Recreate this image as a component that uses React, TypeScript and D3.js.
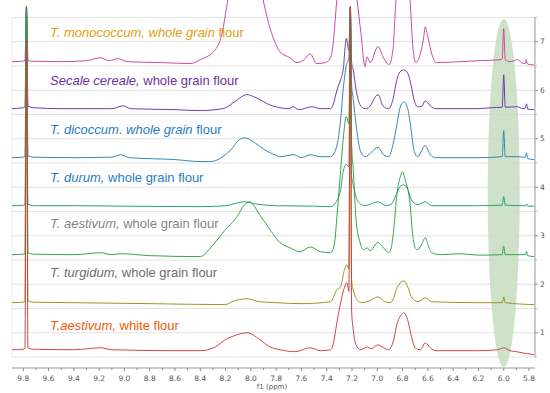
import React from "react";
import * as d3 from "d3";

const W = 550;
const H = 393;

const ppmTicks = [9.8, 9.6, 9.4, 9.2, 9.0, 8.8, 8.6, 8.4, 8.2, 8.0, 7.8, 7.6, 7.4, 7.2, 7.0, 6.8, 6.6, 6.4, 6.2, 6.0, 5.8];
const yTicks = [1, 2, 3, 4, 5, 6, 7];
const gridValues = [0.5, 1, 1.5, 2, 2.5, 3, 3.5, 4, 4.5, 5, 5.5, 6, 6.5, 7, 7.5];

// Vertical offsets of the stacked spectra (axis units)
const offsets = [6.59, 5.62, 4.61, 3.62, 2.61, 1.62, 0.65];

// [ppm, intensity above own baseline]
const monococcum: [number, number][] = [[9.89,0],[9.80,0.01],[9.787,0.02],[9.775,1.13],[9.763,0.03],[9.74,0.01],[9.5,0],[9.3,0.02],[9.19,0.08],[9.12,0.02],[9.05,0.06],[8.98,0],[8.7,-0.02],[8.48,-0.04],[8.40,0.04],[8.28,0.25],[8.23,0.56],[8.18,1.3],[8.05,2.4],[7.95,1.8],[7.904,1.28],[7.85,0.7],[7.80,0.35],[7.77,0.2],[7.69,0.08],[7.635,-0.02],[7.58,0.04],[7.53,0.16],[7.48,-0.04],[7.41,-0.02],[7.37,0.08],[7.35,0.35],[7.32,1.28],[7.28,2.2],[7.225,2.0],[7.19,2.0],[7.16,1.28],[7.13,0.6],[7.097,-0.1],[7.081,0.1],[7.057,-0.02],[6.994,0.31],[6.955,0.1],[6.907,-0.06],[6.876,0.25],[6.852,1.28],[6.80,2.4],[6.741,1.28],[6.717,0.25],[6.694,-0.02],[6.662,0.14],[6.63,0.56],[6.622,0.72],[6.598,0.49],[6.567,0.14],[6.535,-0.02],[6.345,0],[6.187,0.02],[6.03,0.04],[6.012,0.06],[6.0,0.68],[5.988,0.04],[5.95,0],[5.89,0.04],[5.86,-0.02],[5.83,-0.04],[5.822,0.04],[5.812,-0.05],[5.76,-0.07]];

const secale: [number, number][] = [[9.89,0],[9.80,0.02],[9.787,0.04],[9.775,2.10],[9.763,0.05],[9.72,0.02],[9.5,0],[9.1,0],[9.01,0.06],[8.95,0],[8.6,-0.02],[8.4,-0.04],[8.28,-0.02],[8.20,0.02],[8.13,0.14],[8.03,0.29],[7.98,0.25],[7.93,0.19],[7.87,0.10],[7.77,0.02],[7.70,0],[7.666,0.04],[7.62,-0.02],[7.516,0.04],[7.45,0],[7.37,0],[7.35,0.08],[7.318,0.39],[7.29,0.60],[7.27,0.80],[7.245,1.45],[7.225,1.2],[7.213,2.10],[7.203,0.95],[7.19,0.80],[7.168,0.39],[7.136,0.08],[7.097,0],[7.07,0.02],[6.994,0.29],[6.955,0.06],[6.91,0],[6.876,0.19],[6.845,0.60],[6.82,0.76],[6.79,0.80],[6.765,0.76],[6.733,0.49],[6.71,0.19],[6.68,0.04],[6.65,0.04],[6.622,0.16],[6.58,0.06],[6.54,0],[6.2,0],[6.1,0.02],[6.012,0.03],[6.0,0.70],[5.988,0.03],[5.89,0.04],[5.85,0],[5.828,0.02],[5.82,0.10],[5.81,-0.01],[5.76,-0.02]];

const dicoccum: [number, number][] = [[9.89,0],[9.80,0.01],[9.787,0.03],[9.775,3.11],[9.763,0.04],[9.72,0.01],[9.4,0],[9.1,0.01],[9.03,0.06],[8.96,0],[8.6,-0.04],[8.40,-0.08],[8.32,-0.08],[8.16,0.16],[8.09,0.37],[8.05,0.41],[7.97,0.31],[7.89,0.16],[7.81,0.06],[7.77,0.02],[7.66,0.06],[7.60,0],[7.53,0.06],[7.45,0.02],[7.37,0.02],[7.33,0.16],[7.29,0.78],[7.27,1.40],[7.245,1.90],[7.225,2.06],[7.213,3.11],[7.203,1.5],[7.19,1.20],[7.168,0.68],[7.136,0.16],[7.097,0.02],[6.994,0.21],[6.95,0.06],[6.91,0.02],[6.876,0.27],[6.845,0.68],[6.82,1.03],[6.79,1.15],[6.757,0.99],[6.733,0.58],[6.71,0.16],[6.68,0.02],[6.622,0.25],[6.58,0.06],[6.54,0],[6.2,0],[6.012,0.02],[6.0,0.56],[5.988,0.02],[5.89,0.02],[5.828,0.01],[5.82,0.10],[5.81,-0.02],[5.76,-0.04]];

const durum: [number, number][] = [[9.89,0],[9.80,0.01],[9.787,0.02],[9.775,4.10],[9.763,0.03],[9.72,0],[9.4,0],[9.0,-0.01],[8.4,-0.02],[8.2,0],[8.05,0.08],[7.95,0.03],[7.8,0],[7.5,-0.01],[7.37,-0.02],[7.33,0.06],[7.29,0.33],[7.27,0.70],[7.245,0.85],[7.225,0.8],[7.213,4.10],[7.203,0.6],[7.19,0.43],[7.168,0.18],[7.136,0.04],[7.097,0],[6.994,0.08],[6.93,0],[6.89,0.03],[6.85,0.23],[6.82,0.39],[6.79,0.43],[6.757,0.33],[6.73,0.12],[6.68,0.02],[6.622,0.08],[6.57,0],[6.2,0],[6.012,0.01],[6.0,0.19],[5.988,0.01],[5.828,0],[5.82,0.04],[5.81,-0.01],[5.76,-0.01]];

const aestivumWhole: [number, number][] = [[9.89,0],[9.80,0.01],[9.787,0.02],[9.775,5.11],[9.763,0.04],[9.72,0.01],[9.4,0],[9.19,0.04],[9.1,0],[9.03,0.02],[8.8,-0.02],[8.40,-0.04],[8.32,0.14],[8.20,0.52],[8.11,0.78],[8.05,1.03],[8.01,1.09],[7.93,0.82],[7.86,0.56],[7.77,0.25],[7.69,0.14],[7.61,0.06],[7.53,0.16],[7.45,0.06],[7.37,0.04],[7.34,0.21],[7.318,0.82],[7.29,1.75],[7.27,2.37],[7.245,2.85],[7.225,2.7],[7.213,5.11],[7.203,2.3],[7.19,1.75],[7.168,0.72],[7.136,0.25],[7.11,0.10],[7.08,0.14],[7.057,0.08],[6.994,0.25],[6.95,0.14],[6.91,0.04],[6.89,0.14],[6.87,0.52],[6.845,1.24],[6.82,1.59],[6.80,1.71],[6.78,1.55],[6.74,1.03],[6.72,0.41],[6.70,0.14],[6.68,0.10],[6.65,0.21],[6.62,0.35],[6.60,0.21],[6.57,0.04],[6.5,0],[6.345,0.02],[6.2,-0.01],[6.012,0],[6.0,0.18],[5.988,0],[5.828,0],[5.82,0.07],[5.81,-0.02],[5.76,-0.04]];

const turgidum: [number, number][] = [[9.89,0],[9.80,0.01],[9.787,0.04],[9.775,6.10],[9.763,0.04],[9.72,0.01],[9.4,0],[8.8,-0.02],[8.2,-0.04],[8.15,0.02],[8.03,0.08],[7.93,0.02],[7.8,0],[7.6,-0.02],[7.37,0.02],[7.318,0.27],[7.29,0.33],[7.26,0.68],[7.24,0.78],[7.225,0.7],[7.213,6.10],[7.203,0.45],[7.19,0.27],[7.16,0.06],[7.12,0],[7.08,0.02],[6.994,0.12],[6.94,0.02],[6.9,0],[6.87,0.10],[6.85,0.27],[6.79,0.45],[6.76,0.33],[6.73,0.12],[6.68,0.02],[6.62,0.10],[6.57,0.02],[6.2,0],[6.012,0],[6.0,0.12],[5.988,0],[5.76,-0.04]];

const aestivumWhite: [number, number][] = [[9.89,0],[9.80,0.01],[9.787,0.03],[9.775,6.39],[9.763,0.04],[9.72,0.01],[9.4,0],[9.19,0.04],[9.1,0],[8.6,-0.02],[8.4,-0.02],[8.28,0.06],[8.20,0.21],[8.13,0.29],[8.03,0.35],[7.93,0.21],[7.85,0.06],[7.77,0],[7.65,-0.04],[7.53,0.04],[7.45,-0.02],[7.37,0],[7.35,0.10],[7.32,0.55],[7.29,0.97],[7.265,1.24],[7.24,1.38],[7.225,1.2],[7.213,7.07],[7.203,0.8],[7.19,0.41],[7.168,0.10],[7.13,0],[7.08,0.06],[7.05,0.02],[6.994,0.10],[6.95,0.04],[6.91,0],[6.87,0.21],[6.845,0.52],[6.81,0.72],[6.79,0.76],[6.76,0.62],[6.733,0.31],[6.70,0.04],[6.66,0],[6.62,0.14],[6.58,0.04],[6.54,-0.02],[6.2,-0.02],[6.05,0],[6.0,0.04],[5.95,-0.02],[5.90,-0.04],[5.82,-0.08],[5.76,-0.1]];

const spectra = [monococcum, secale, dicoccum, durum, aestivumWhole, turgidum, aestivumWhite];
const lineColors = ["#c8409c", "#6a32a8", "#2f7fb2", "#1e9c78", "#2e9e42", "#9a8c14", "#d23a3a"];
const drawOrder = [0, 1, 2, 3, 5, 4, 6];

// Labels: [italic part, regular part]
const labelItalic = ["T. monococcum, whole grain", "Secale cereale,", "T. dicoccum. whole grain", "T. durum,", "T. aestivum,", "T. turgidum,", "T.aestivum,"];
const labelRegular = [" flour", " whole grain flour", " flour", " whole grain flour", " whole grain flour", " whole grain flour", " white flour"];
const labelColors = ["#e3a008", "#7030a0", "#1f7cc4", "#1f7cc4", "#858585", "#6e6e6e", "#f25a05"];
const labelValues = [7.1, 6.1, 5.1, 4.1, 3.15, 2.15, 1.05];

export default function App() {
  const x = d3.scaleLinear().domain([9.8, 5.8]).range([23.3, 529]);
  const y = d3.scaleLinear().domain([0.5, 7.5]).range([357, 17.5]);
  const left = 12;
  const right = 535;
  const axisY = 368;

  const minorTicks = d3.range(0, 41).map((i) => 9.8 - i * 0.1);

  return (
    <svg width={W} height={H} style={{ position: "absolute", left: 0, top: 0, background: "#fff" }} fontFamily="'DejaVu Sans', Verdana, sans-serif">
      {/* frame + gridlines */}
      {gridValues.map((g) => (
        <line key={g} x1={left} x2={right} y1={y(g)} y2={y(g)} stroke="#e2e2e2" strokeWidth={1} />
      ))}
      <line x1={left} x2={left} y1={y(7.5)} y2={y(0.5)} stroke="#ececec" strokeWidth={1} />

      {/* highlight ellipse */}
      <ellipse cx={x(6.0)} cy={193} rx={16} ry={174} fill="#c6ddc0" opacity={0.85} />

      {/* spectra */}
      {drawOrder.map((i) => {
        const off = offsets[i];
        const line = d3
          .line<[number, number]>()
          .x((d) => x(d[0]))
          .y((d) => y(d[1] + off))
          .curve(d3.curveMonotoneX);
        return (
          <path key={i} d={line(spectra[i]) || ""} fill="none" stroke={lineColors[i]} strokeWidth={0.95} strokeLinejoin="round" />
        );
      })}

      {/* labels */}
      {labelItalic.map((t, i) => (
        <text key={i} x={50} y={y(labelValues[i])} fontFamily="'Liberation Sans', Arial, sans-serif" fontSize={13} fill={labelColors[i]}>
          <tspan fontStyle="italic">{t}</tspan>
          <tspan>{labelRegular[i]}</tspan>
        </text>
      ))}

      {/* right axis */}
      <line x1={right} x2={right} y1={y(7.5)} y2={y(0.5)} stroke="#999" strokeWidth={1} />
      {yTicks.map((t) => (
        <g key={t}>
          <line x1={right} x2={right + 3} y1={y(t)} y2={y(t)} stroke="#888" />
          <text x={right + 5} y={y(t) + 2.5} fontSize={7.5} fill="#555">
            {t}
          </text>
        </g>
      ))}
      {gridValues.filter((g) => g % 1 !== 0).map((t) => (
        <line key={t} x1={right} x2={right + 2} y1={y(t)} y2={y(t)} stroke="#aaa" />
      ))}

      {/* bottom axis */}
      <line x1={left} x2={right} y1={axisY} y2={axisY} stroke="#999" strokeWidth={1} />
      {minorTicks.map((t, i) => (
        <line key={i} x1={x(t)} x2={x(t)} y1={axisY} y2={axisY + (i % 2 === 0 ? 3 : 2)} stroke="#888" />
      ))}
      {ppmTicks.map((t) => (
        <text key={t} x={x(t)} y={axisY + 13} fontSize={7.5} fill="#555" textAnchor="middle">
          {t.toFixed(1)}
        </text>
      ))}
      <text x={272} y={389} fontSize={7} fill="#555" textAnchor="middle">
        f1 (ppm)
      </text>
    </svg>
  );
}
